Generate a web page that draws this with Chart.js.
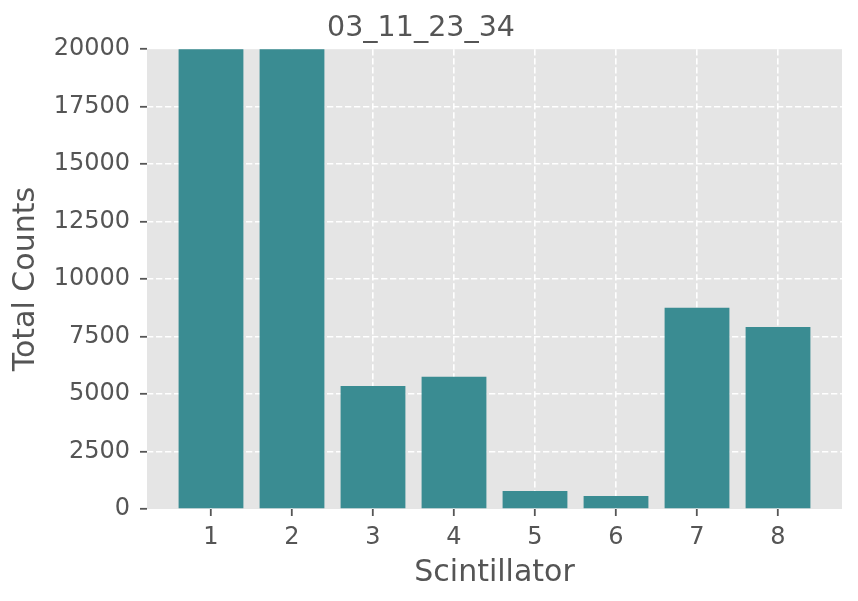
<!DOCTYPE html>
<html>
<head>
<meta charset="utf-8">
<script src="https://cdn.jsdelivr.net/npm/chart.js@4"></script>
<style>
  html, body { margin: 0; padding: 0; background: #fff; }
  #wrap { width: 858px; height: 601px; }
</style>
</head>
<body>
<div id="wrap"><canvas id="chart" width="858" height="601"></canvas></div>
<script>
// data
const scintillators = [1, 2, 3, 4, 5, 6, 7, 8];
const totalCounts = [23000, 23000, 5350, 5750, 785, 565, 8750, 7920];  // 1 and 2 run off the top
const yTicks = [0, 2500, 5000, 7500, 10000, 12500, 15000, 17500, 20000];
const chartTitle = '03_11_23_34';

const TEXT = '#555555';
const FONT = 'DejaVu Sans';

// matplotlib-like x limits: bar half width 0.4 plus 5% margin
const span = (scintillators[scintillators.length - 1] + 0.4) - (scintillators[0] - 0.4);
const xMin = scintillators[0] - 0.4 - span * 0.05;
const xMax = scintillators[scintillators.length - 1] + 0.4 + span * 0.05;

const panelBg = {
    id: 'panelBg',
    beforeDraw(chart) {
        const { ctx, chartArea: a } = chart;
        ctx.save();
        ctx.fillStyle = '#e5e5e5';
        ctx.fillRect(a.left, a.top, a.right - a.left, a.bottom - a.top);
        ctx.restore();
    }
};

const gridColor = ctx => {
    const v = ctx.tick ? ctx.tick.value : null;
    return (v === yTicks[0] || v === yTicks[yTicks.length - 1]) ? 'rgba(0,0,0,0)' : '#ffffff';
};

new Chart(document.getElementById('chart'), {
    type: 'bar',
    data: {
        datasets: [{
            data: scintillators.map((s, i) => ({ x: s, y: totalCounts[i] })),
            backgroundColor: '#3a8c92',
            borderWidth: 0,
            barPercentage: 0.8,
            categoryPercentage: 1.0
        }]
    },
    options: {
        responsive: false,
        animation: false,
        layout: { padding: { left: 0, right: 16, top: 0, bottom: 0 } },
        plugins: {
            legend: { display: false },
            tooltip: { enabled: false },
            title: {
                display: true,
                text: chartTitle,
                color: TEXT,
                font: { family: FONT, size: 28.5, weight: 'normal' },
                padding: { top: 11, bottom: 4 }
            }
        },
        scales: {
            x: {
                type: 'linear',
                offset: false,
                min: xMin,
                max: xMax,
                afterBuildTicks: scale => { scale.ticks = scintillators.map(v => ({ value: v })); },
                afterFit: scale => { scale.height = 92; },
                ticks: {
                    color: TEXT,
                    font: { family: FONT, size: 24 },
                    padding: 7,
                    maxRotation: 0,
                    callback: v => String(v)
                },
                grid: {
                    offset: false,
                    color: '#ffffff',
                    lineWidth: 1.6,
                    drawTicks: true,
                    tickLength: 7,
                    tickColor: TEXT,
                    tickWidth: 1.8,
                    tickBorderDash: []
                },
                border: { display: false, dash: [6.3, 2.7] },
                title: {
                    display: true,
                    text: 'Scintillator',
                    color: TEXT,
                    font: { family: FONT, size: 30 },
                    padding: { top: 0, bottom: 10 }
                }
            },
            y: {
                min: yTicks[0],
                max: yTicks[yTicks.length - 1],
                afterBuildTicks: scale => { scale.ticks = yTicks.map(v => ({ value: v })); },
                afterFit: scale => { scale.width = 147; },
                ticks: {
                    color: TEXT,
                    font: { family: FONT, size: 24 },
                    padding: 10,
                    callback: v => String(v)
                },
                grid: {
                    color: gridColor,
                    lineWidth: 1.6,
                    drawTicks: true,
                    tickLength: 7,
                    tickColor: TEXT,
                    tickWidth: 1.8,
                    tickBorderDash: []
                },
                border: { display: false, dash: [6.3, 2.7] },
                title: {
                    display: true,
                    text: 'Total Counts',
                    color: TEXT,
                    font: { family: FONT, size: 30 },
                    padding: { top: 8, bottom: 0 }
                }
            }
        }
    },
    plugins: [panelBg]
});
</script>
</body>
</html>
